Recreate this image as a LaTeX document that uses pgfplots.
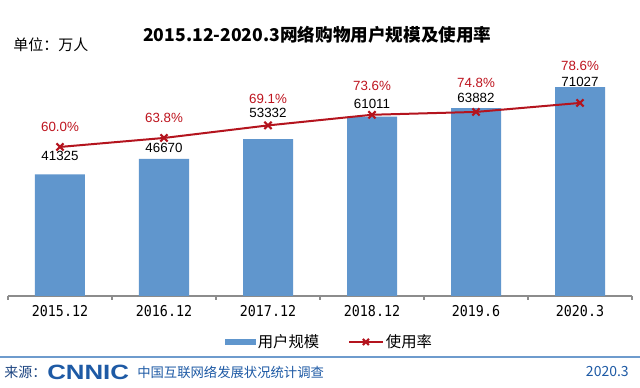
\documentclass[border=0pt]{standalone}
\usepackage{fontspec}
\setmainfont{Liberation Sans}
\newfontfamily\cjk{Noto Sans CJK SC}
\newfontfamily\tickfont{DejaVu Sans Mono}
\usepackage{pgfplots}
\usepackage{pgfplotstable}
\pgfplotsset{compat=1.18}
\definecolor{barblue}{RGB}{96,150,205}
\definecolor{linered}{RGB}{180,20,30}
\definecolor{labred}{RGB}{190,20,30}
\definecolor{footblue}{RGB}{30,90,165}
\definecolor{navy}{RGB}{30,70,130}
\definecolor{linegray}{RGB}{140,140,140}
\definecolor{rulblue}{RGB}{110,155,205}

\pgfplotstableread{
x users
0 41325
1 46670
2 53332
3 61011
4 63882
5 71027
}\users
\pgfplotstableread{
x rate
0 60.0
1 63.8
2 69.1
3 73.6
4 74.8
5 78.6
}\rate

\begin{document}
\begin{tikzpicture}
\path[use as bounding box, fill=white] (0,0) rectangle (480pt,291pt);
\begin{axis}[
  at={(6pt,69pt)}, anchor=south west,
  scale only axis, width=468pt, height=185.25pt,
  xmin=-0.5, xmax=5.5, ymin=0, ymax=84000,
  axis y line=none, axis x line*=bottom,
  x axis line style={linegray, line width=0.8pt, -},
  xtick={0,...,5},
  xticklabels={2015.12,2016.12,2017.12,2018.12,2019.6,2020.3},
  major tick length=0pt,
  minor xtick={-0.5,0.5,...,5.5},
  minor tick length=3pt, tick align=outside,
  every minor tick/.style={linegray, line width=0.8pt},
  xticklabel style={font=\tickfont\fontsize{10}{12}\selectfont, yshift=-3pt, yscale=1.12},
  ybar, bar width=37.5pt,
  clip=false,
]
\addplot[fill=barblue, draw=none] table[x=x,y=users]{\users};
\node[font=\fontsize{10}{12}\selectfont] at (axis cs:0,47740) {41325};
\node[font=\fontsize{10}{12}\selectfont] at (axis cs:1,50468) {46670};
\node[font=\fontsize{10}{12}\selectfont] at (axis cs:2,62403) {53332};
\node[font=\fontsize{10}{12}\selectfont] at (axis cs:3,65472) {61011};
\node[font=\fontsize{10}{12}\selectfont] at (axis cs:4,67518) {63882};
\node[font=\fontsize{10}{12}\selectfont] at (axis cs:5,72974) {71027};
\end{axis}
\begin{axis}[
  at={(6pt,69pt)}, anchor=south west,
  scale only axis, width=468pt, height=185.25pt,
  xmin=-0.5, xmax=5.5, ymin=-3, ymax=101.4,
  hide axis, clip=false,
  legend style={at={(0.516,-0.186)}, anchor=center, draw=none, fill=none,
    font=\cjk\fontsize{11.5}{13}\selectfont,
    /tikz/every even column/.append style={column sep=20pt}},
  legend columns=2, legend cell align=left,
]
\addlegendimage{legend image code/.code={\fill[barblue] (0pt,-2pt) rectangle (22pt,2pt);}}
\addlegendentry{用户规模}
\addplot[linered, line width=1.5pt, mark=x, mark size=3.8pt, mark options={line width=1.6pt},
  legend image code/.code={\draw[line width=1.1pt, mark repeat=2,mark phase=2, mark size=3.2pt] plot coordinates {(0pt,0pt) (12.5pt,0pt) (25pt,0pt)};}]
  table[x=x,y=rate]{\rate};
\addlegendentry{使用率}
\node[font=\fontsize{10}{12}\selectfont, text=labred] at (axis cs:0,68.5) {60.0\%};
\node[font=\fontsize{10}{12}\selectfont, text=labred] at (axis cs:1,72.3) {63.8\%};
\node[font=\fontsize{10}{12}\selectfont, text=labred] at (axis cs:2,80.3) {69.1\%};
\node[font=\fontsize{10}{12}\selectfont, text=labred] at (axis cs:3,85.8) {73.6\%};
\node[font=\fontsize{10}{12}\selectfont, text=labred] at (axis cs:4,87.1) {74.8\%};
\node[font=\fontsize{10}{12}\selectfont, text=labred] at (axis cs:5,94.3) {78.6\%};
\end{axis}
% title and unit
\node[font=\cjk\bfseries\fontsize{13.2}{15}\selectfont] at (238pt,264.75pt) {2015.12-2020.3网络购物用户规模及使用率};
\node[anchor=west, inner sep=0pt, font=\cjk\fontsize{11.25}{13}\selectfont] at (9.75pt,257.25pt) {单位：万人};
% footer
\draw[rulblue, line width=1pt] (0pt,23.25pt) -- (480pt,23.25pt);
\node[anchor=west, inner sep=0pt, text=navy, font=\cjk\fontsize{10.5}{12}\selectfont] at (3pt,12pt) {来源：};
\node[anchor=west, inner sep=0pt, text=footblue, font=\bfseries\fontsize{15.5}{16}\selectfont] at (35.25pt,12pt) {\scalebox{1.25}[1]{CNNIC}};
\node[anchor=west, inner sep=0pt, text=footblue, font=\cjk\fontsize{10}{12}\selectfont] at (102.75pt,12pt) {中国互联网络发展状况统计调查};
\node[anchor=east, inner sep=0pt, text=footblue, font=\cjk\fontsize{10.5}{12}\selectfont] at (471.75pt,12pt) {2020.3};
\end{tikzpicture}
\end{document}
